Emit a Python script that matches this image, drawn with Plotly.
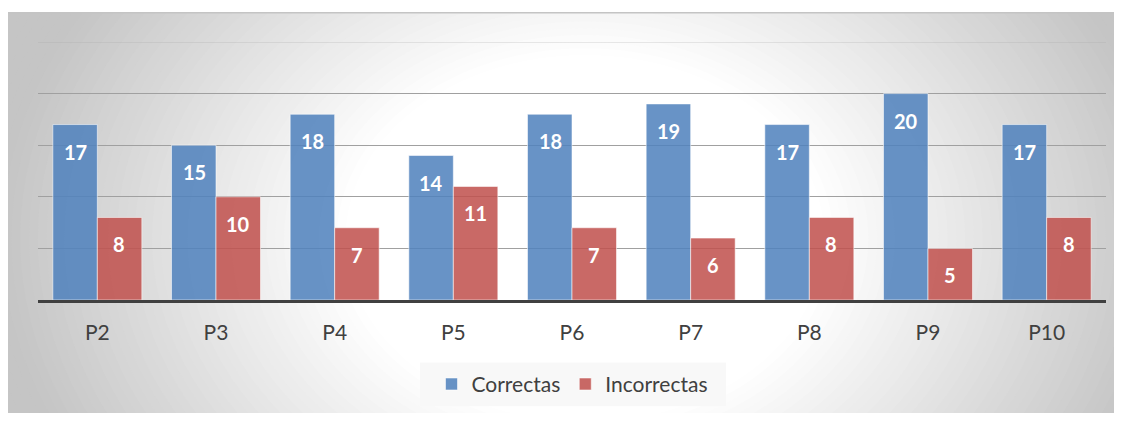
import plotly.graph_objects as go

categories = ["P2", "P3", "P4", "P5", "P6", "P7", "P8", "P9", "P10"]
correctas = [17, 15, 18, 14, 18, 19, 17, 20, 17]
incorrectas = [8, 10, 7, 11, 7, 6, 8, 5, 8]
series_names = ["Correctas", "Incorrectas"]

OFF = 8  # page body margin
W, H = 1122 - 2 * OFF, 421 - 2 * OFF
L, T = 38 - OFF, 42 - OFF
R = W - (1106 - OFF)
B = H - (302 - OFF)
PW, PH = W - L - R, H - T - B

def px_x(px):
    return (px - OFF - L) / PW

def px_y(py):
    return (H - B - (py - OFF)) / PH

FONT = "Lato, 'Open Sans', sans-serif"

fig = go.Figure()
fig.add_trace(go.Bar(
    x=categories, y=correctas, name=series_names[0],
    marker=dict(color="rgba(79,129,189,0.86)", line=dict(color="rgba(255,255,255,0.55)", width=1)),
))
fig.add_trace(go.Bar(
    x=categories, y=incorrectas, name=series_names[1],
    marker=dict(color="rgba(192,80,77,0.86)", line=dict(color="rgba(255,255,255,0.55)", width=1)),
))

# radial-ish gradient background made of concentric ellipses
shapes = []
cx, cy, rx, ry = 585, 240, 570, 440
N = 70
dmax, dmin = 1.5, 0.42
for i in range(N + 1):
    d = dmax - (dmax - dmin) * i / N
    t = min(max((d - 0.42) / 0.58, 0), 1.1)
    v = int(round(255 - 55 * t))
    v = max(v, 197)
    col = f"rgb({v},{v},{v})"
    shapes.append(dict(type="circle", xref="paper", yref="paper", layer="below",
                       x0=px_x(cx - rx * d), x1=px_x(cx + rx * d),
                       y0=px_y(cy + ry * d), y1=px_y(cy - ry * d),
                       fillcolor=col, line=dict(width=0)))
# white outside of chart area (top strip)
shapes.append(dict(type="rect", xref="paper", yref="paper", layer="below",
                   x0=px_x(0), x1=px_x(1130), y0=px_y(12), y1=px_y(0),
                   fillcolor="white", line=dict(width=0)))
# chart area top border
shapes.append(dict(type="line", xref="paper", yref="paper", layer="below",
                   x0=px_x(8), x1=px_x(1122), y0=px_y(12.5), y1=px_y(12.5),
                   line=dict(color="#c4c4c4", width=1.5)))
# legend box background
shapes.append(dict(type="rect", xref="paper", yref="paper", layer="below",
                   x0=px_x(420), x1=px_x(726), y0=px_y(409), y1=px_y(365),
                   fillcolor="rgba(248,248,248,0.94)", line=dict(width=0)))
# top (25) gridline, lighter
shapes.append(dict(type="line", xref="paper", yref="y", layer="below",
                   x0=0, x1=1, y0=25, y1=25,
                   line=dict(color="rgba(170,170,170,0.5)", width=1)))

annotations = []
for vals, shift in ((correctas, -22), (incorrectas, 22)):
    for c, v in zip(categories, vals):
        annotations.append(dict(x=c, y=v, xref="x", yref="y", text=str(v),
                                showarrow=False, xshift=shift, yshift=-27,
                                yanchor="middle",
                                font=dict(family=FONT, size=20, color="white", weight="bold")))

fig.update_layout(
    width=W, height=H,
    margin=dict(l=L, r=R, t=T, b=B),
    paper_bgcolor="white", plot_bgcolor="rgba(0,0,0,0)",
    barmode="group", bargap=0.25, bargroupgap=0,
    shapes=shapes, annotations=annotations,
    showlegend=True,
    legend=dict(orientation="h", x=0.5, xanchor="center", y=px_y(387), yanchor="middle",
                font=dict(family=FONT, size=21, color="#404040"),
                bgcolor="rgba(0,0,0,0)", itemwidth=30, tracegroupgap=0),
    font=dict(family=FONT, color="#404040"),
)
fig.update_xaxes(showline=True, linecolor="#404040", linewidth=3, showgrid=False,
                 ticks="outside", ticklen=12, tickcolor="rgba(0,0,0,0)",
                 tickfont=dict(family=FONT, size=21, color="#404040"), fixedrange=True)
fig.update_yaxes(range=[0, 25], tickvals=[5, 10, 15, 20], showticklabels=False,
                 gridcolor="#a0a0a0", gridwidth=1, zeroline=False, showline=False, fixedrange=True)

fig.write_html("out.html")
